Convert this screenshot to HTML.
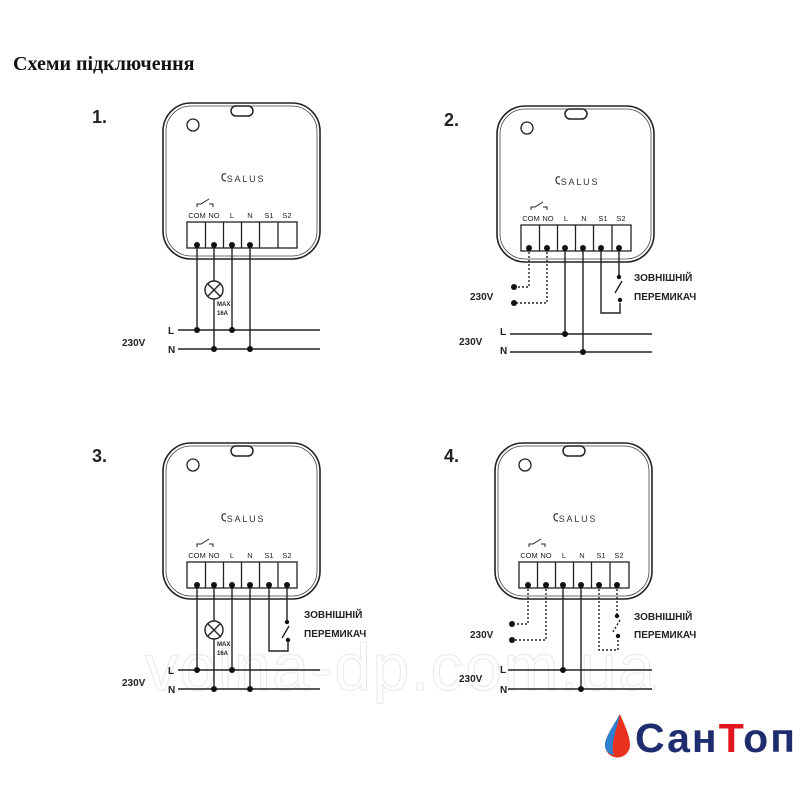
<!DOCTYPE html>
<html><head><meta charset="utf-8"><style>
html,body{margin:0;padding:0;background:#fff;width:800px;height:800px;overflow:hidden}
</style></head><body>
<svg width="800" height="800" viewBox="0 0 800 800" xmlns="http://www.w3.org/2000/svg" font-family="Liberation Sans, DejaVu Sans, sans-serif">
<defs>
<g id="dev">
  <rect x="163" y="103" width="157" height="156" rx="28" fill="#fff" stroke="#222" stroke-width="1.6"/>
  <rect x="166" y="106" width="151" height="150" rx="25" fill="none" stroke="#444" stroke-width="0.8"/>
  <rect x="231" y="106" width="22" height="10" rx="5" fill="none" stroke="#222" stroke-width="1.5"/>
  <circle cx="193" cy="125" r="6" fill="none" stroke="#222" stroke-width="1.3"/>
  <path d="M226 174 q-4 -1 -4 3 q0 4 4 4" fill="none" stroke="#333" stroke-width="1.2"/>
  <text x="246" y="182" font-size="9" text-anchor="middle" fill="#333" stroke="none" letter-spacing="1.8">SALUS</text>
  <path d="M197 207 v-3 h4 l8 -5 M209 204 h4 v3" fill="none" stroke="#222" stroke-width="1"/>
  <g font-size="7.5" fill="#222" stroke="none" text-anchor="middle">
    <text x="197" y="218">COM</text><text x="214" y="218">NO</text><text x="232" y="218">L</text>
    <text x="250" y="218">N</text><text x="269" y="218">S1</text><text x="287" y="218">S2</text>
  </g>
  <rect x="187" y="222" width="110" height="26" fill="#fff" stroke="#222" stroke-width="1.3"/>
  <path d="M205.5 222v26M223.5 222v26M241.5 222v26M259.5 222v26M278 222v26" stroke="#222" stroke-width="1.3"/>
</g>
</defs>
<text x="13" y="70" font-family="Liberation Serif, serif" font-size="20" font-weight="bold" fill="#111">Схеми підключення</text>

<g font-size="18" font-weight="bold" fill="#222">
<text x="92" y="123">1.</text><text x="444" y="126">2.</text><text x="92" y="462">3.</text><text x="444" y="462">4.</text>
</g>

<g stroke="#222" stroke-width="1.4" fill="none">
<use href="#dev"/>
<use href="#dev" transform="translate(334,3)"/>
<use href="#dev" transform="translate(0,340)"/>
<use href="#dev" transform="translate(332,340)"/>
</g>

<text x="145" y="690" font-size="66" fill="none" stroke="#e8e8e8" stroke-width="1" textLength="510">volna-dp.com.ua</text>

<g font-size="10" font-weight="bold" fill="#222">
<text x="122" y="346">230V</text><text x="168" y="334">L</text><text x="168" y="353">N</text>
<text x="470" y="300">230V</text><text x="459" y="345">230V</text><text x="500" y="335">L</text><text x="500" y="354">N</text>
<text x="122" y="686">230V</text><text x="168" y="674">L</text><text x="168" y="693">N</text>
<text x="470" y="638">230V</text><text x="459" y="682">230V</text><text x="500" y="673">L</text><text x="500" y="693">N</text>
<text x="634" y="281">ЗОВНІШНІЙ</text><text x="634" y="300">ПЕРЕМИКАЧ</text>
<text x="304" y="618">ЗОВНІШНІЙ</text><text x="304" y="637">ПЕРЕМИКАЧ</text>
<text x="634" y="620">ЗОВНІШНІЙ</text><text x="634" y="638">ПЕРЕМИКАЧ</text>
</g>

<g stroke="#222" stroke-width="1.4" fill="none">
<path d="M178 330H320M178 349H320"/>
<path d="M197 245V330M214 245V281M214 299V349M232 245V330M250 245V349"/>
<circle cx="214" cy="290" r="9"/><path d="M208 284l12 12M220 284l-12 12"/>
<path d="M178 670H320M178 689H320"/>
<path d="M197 585V670M214 585V621M214 639V689M232 585V670M250 585V689"/>
<circle cx="214" cy="630" r="9"/><path d="M208 624l12 12M220 624l-12 12"/>
<path d="M269 585V651H288V640M287 585V622M289 626L282 638"/>
<path d="M510 334H652M510 352H652"/>
<path d="M565 248V334M583 248V352"/>
<path d="M601 248V313H620V303M619 248V277M622 281L615 293"/>
<path d="M529 248V287H514M547 248V303H514" stroke-dasharray="2,2"/>
<path d="M508 670H652M508 689H652"/>
<path d="M563 585V670M581 585V689"/>
<path d="M528 585V624H512M546 585V640H512M599 585V650H618V640M617 585V616M620 620L613 632" stroke-dasharray="2,2"/>
</g>
<g fill="#111">
<circle cx="197" cy="245" r="3"/><circle cx="214" cy="245" r="3"/><circle cx="232" cy="245" r="3"/><circle cx="250" cy="245" r="3"/>
<circle cx="197" cy="330" r="3"/><circle cx="232" cy="330" r="3"/><circle cx="214" cy="349" r="3"/><circle cx="250" cy="349" r="3"/>
<circle cx="197" cy="585" r="3"/><circle cx="214" cy="585" r="3"/><circle cx="232" cy="585" r="3"/><circle cx="250" cy="585" r="3"/><circle cx="269" cy="585" r="3"/><circle cx="287" cy="585" r="3"/>
<circle cx="197" cy="670" r="3"/><circle cx="232" cy="670" r="3"/><circle cx="214" cy="689" r="3"/><circle cx="250" cy="689" r="3"/>
<circle cx="287" cy="622" r="2.2"/><circle cx="288" cy="640" r="2.2"/>
<circle cx="529" cy="248" r="3"/><circle cx="547" cy="248" r="3"/><circle cx="565" cy="248" r="3"/><circle cx="583" cy="248" r="3"/><circle cx="601" cy="248" r="3"/><circle cx="619" cy="248" r="3"/>
<circle cx="565" cy="334" r="3"/><circle cx="583" cy="352" r="3"/><circle cx="514" cy="287" r="3"/><circle cx="514" cy="303" r="3"/>
<circle cx="619" cy="277" r="2.2"/><circle cx="620" cy="300" r="2.2"/>
<circle cx="528" cy="585" r="3"/><circle cx="546" cy="585" r="3"/><circle cx="563" cy="585" r="3"/><circle cx="581" cy="585" r="3"/><circle cx="599" cy="585" r="3"/><circle cx="617" cy="585" r="3"/>
<circle cx="563" cy="670" r="3"/><circle cx="581" cy="689" r="3"/><circle cx="512" cy="624" r="3"/><circle cx="512" cy="640" r="3"/>
<circle cx="617" cy="616" r="2.2"/><circle cx="618" cy="636" r="2.2"/>
</g>
<g font-size="6" font-weight="bold" fill="#222">
<text x="217" y="306">MAX</text><text x="217" y="315">16A</text>
<text x="217" y="646">MAX</text><text x="217" y="655">16A</text>
</g>

<path d="M620 714 C612 728 605 738 605 745 A12 12 0 0 0 630 745 C630 737 626 728 620 714Z" fill="#e8321e"/>
<path d="M620 714 C612 728 605 738 605 745 A10 10 0 0 0 614 755 C610 745 616 732 620 714Z" fill="#2d7fd0"/>
<text x="635" y="752" font-size="41" font-weight="bold" fill="#1f2d6e" textLength="160">Сан<tspan fill="#e3161d">Т</tspan>оп</text>
</svg>
</body></html>
